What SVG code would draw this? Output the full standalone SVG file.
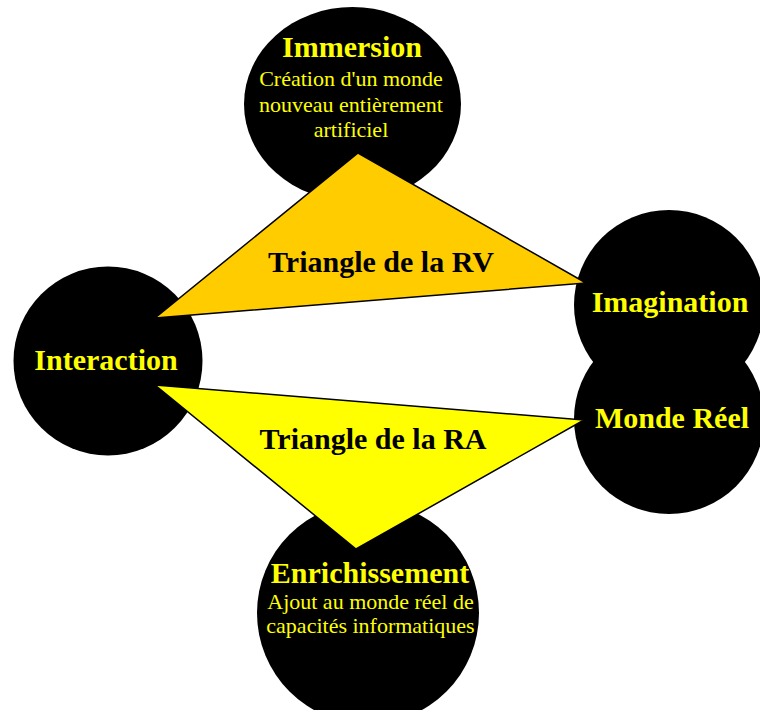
<svg xmlns="http://www.w3.org/2000/svg" width="760" height="710" viewBox="0 0 760 710">
<style>
.node{fill:#000000}
.t{font-family:"Liberation Serif","Times New Roman",serif;fill:#FFFF00;text-anchor:middle}
.b{font-weight:bold;font-size:30px}
.s{font-size:22px}
.lab{font-family:"Liberation Serif","Times New Roman",serif;font-weight:bold;font-size:30px;fill:#000000;text-anchor:middle}
.tri{stroke:#000000;stroke-width:1.5;stroke-linejoin:miter}
</style>
<rect width="760" height="710" fill="#FFFFFF"/>
<g id="immersion">
<ellipse class="node" cx="352.5" cy="104" rx="108.5" ry="97"/>
<text class="t b" x="352" y="57">Immersion</text>
<text class="t s" x="351" y="86">Création d'un monde</text>
<text class="t s" x="351" y="111.5">nouveau entièrement</text>
<text class="t s" x="351" y="137">artificiel</text>
</g>
<g id="imagination">
<circle class="node" cx="669" cy="305" r="95"/>
</g>
<g id="monde-reel">
<circle class="node" cx="669" cy="419" r="95"/>
</g>
<g id="interaction">
<circle class="node" cx="108" cy="361" r="94.5"/>
<text class="t b" x="106" y="370">Interaction</text>
</g>
<g id="enrichissement">
<circle class="node" cx="368" cy="613" r="111"/>
<text class="t b" x="370" y="583">Enrichissement</text>
<text class="t s" x="370.5" y="609">Ajout au monde réel de</text>
<text class="t s" x="370.5" y="633">capacités informatiques</text>
</g>
<g id="connectors">
<polygon id="triangle-rv" class="tri" fill="#FFCC00" points="358,153 586,283 155,318"/>
<polygon id="triangle-ra" class="tri" fill="#FFFF00" points="155,385 584,420 356,549"/>
</g>
<g id="labels">
<text class="lab" x="381" y="272">Triangle de la RV</text>
<text class="lab" x="373" y="449">Triangle de la RA</text>
<text class="t b" x="670" y="312">Imagination</text>
<text class="t b" x="672" y="428">Monde Réel</text>
</g>
</svg>
